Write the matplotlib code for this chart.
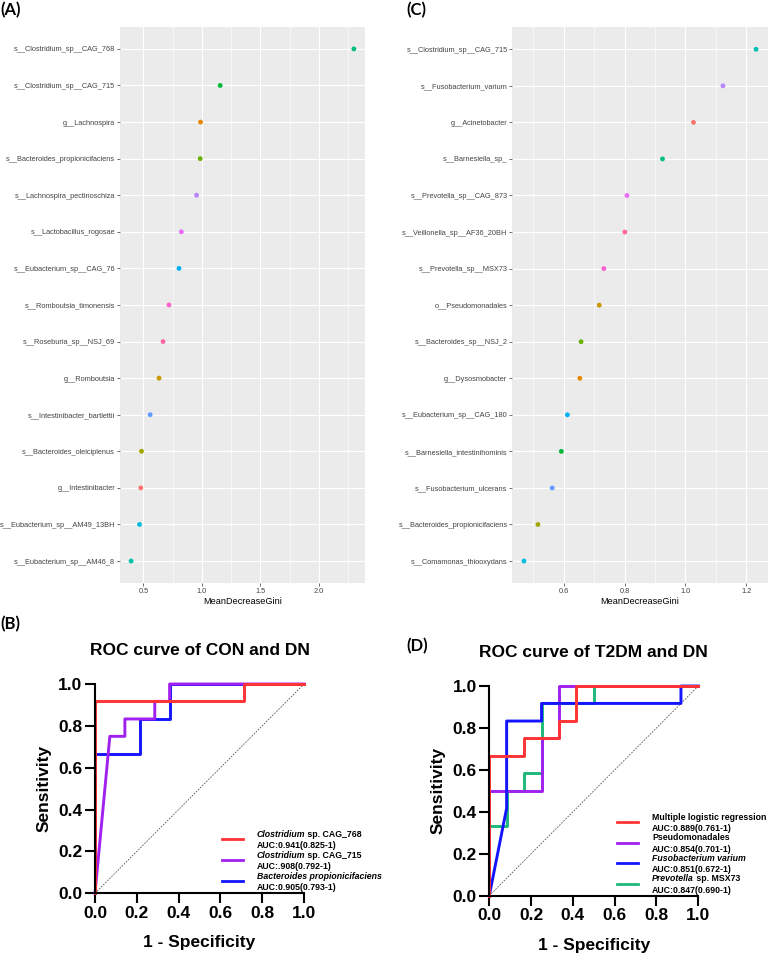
import numpy as np
import matplotlib
matplotlib.use("Agg")
import matplotlib.pyplot as plt
from matplotlib.ticker import MultipleLocator

plt.rcParams['font.family'] = 'Liberation Sans'

# (A) random forest importance, CON vs DN (top to bottom)
taxa_a = ['s__Clostridium_sp__CAG_768', 's__Clostridium_sp__CAG_715', 'g__Lachnospira',
          's__Bacteroides_propionicifaciens', 's__Lachnospira_pectinoschiza',
          's__Lactobacillus_rogosae', 's__Eubacterium_sp__CAG_76', 's__Romboutsia_timonensis',
          's__Roseburia_sp__NSJ_69', 'g__Romboutsia', 's__Intestinibacter_bartlettii',
          's__Bacteroides_oleiciplenus', 'g__Intestinibacter', 's__Eubacterium_sp__AM49_13BH',
          's__Eubacterium_sp__AM46_8']
gini_a = [2.30, 1.156, 0.988, 0.985, 0.954, 0.824, 0.804, 0.718, 0.667, 0.633,
          0.557, 0.483, 0.477, 0.466, 0.394]

# (C) random forest importance, T2DM vs DN
taxa_c = ['s__Clostridium_sp__CAG_715', 's__Fusobacterium_varium', 'g__Acinetobacter',
          's__Barnesiella_sp_', 's__Prevotella_sp__CAG_873', 's__Veillonella_sp__AF36_20BH',
          's__Prevotella_sp__MSX73', 'o__Pseudomonadales', 's__Bacteroides_sp__NSJ_2',
          'g__Dysosmobacter', 's__Eubacterium_sp__CAG_180', 's__Barnesiella_intestinihominis',
          's__Fusobacterium_ulcerans', 's__Bacteroides_propionicifaciens',
          's__Comamonas_thiooxydans']
gini_c = [1.233, 1.124, 1.027, 0.925, 0.808, 0.801, 0.732, 0.717, 0.657, 0.653,
          0.612, 0.592, 0.562, 0.515, 0.469]

# ggplot default hue palette for 15 levels (levels sorted alphabetically)
hue15 = ['#F8766D', '#E58700', '#C99800', '#A3A500', '#6BB100', '#00BA38', '#00BF7D',
         '#00C0AF', '#00BCD8', '#00B0F6', '#619CFF', '#B983FF', '#E76BF3', '#FD61D1',
         '#FF67A4']

# (B) ROC, CON vs DN
b_fpr_768 = [0, 0, 0.714, 0.714, 1]
b_tpr_768 = [0, 0.917, 0.917, 1, 1]
b_fpr_715 = [0, 0.071, 0.143, 0.143, 0.286, 0.286, 0.357, 0.357, 1]
b_tpr_715 = [0, 0.75, 0.75, 0.833, 0.833, 0.917, 0.917, 1, 1]
b_fpr_bprop = [0, 0, 0.214, 0.214, 0.357, 0.357, 1]
b_tpr_bprop = [0, 0.667, 0.667, 0.833, 0.833, 1, 1]
b_leg_italic = ['Clostridium', 'Clostridium', 'Bacteroides propionicifaciens']
b_leg_plain = [' sp. CAG_768', ' sp. CAG_715', '']
b_leg_auc = ['AUC:0.941(0.825-1)', 'AUC:.908(0.792-1)', 'AUC:0.905(0.793-1)']

# (D) ROC, T2DM vs DN
d_fpr_mlr = [0, 0, 0.167, 0.167, 0.333, 0.333, 0.417, 0.417, 1]
d_tpr_mlr = [0, 0.667, 0.667, 0.75, 0.75, 0.833, 0.833, 1, 1]
d_fpr_pseu = [0, 0, 0.25, 0.25, 0.333, 0.333, 1]
d_tpr_pseu = [0, 0.5, 0.5, 0.75, 0.75, 1, 1]
d_fpr_fuso = [0, 0.083, 0.083, 0.25, 0.25, 0.917, 0.917, 1]
d_tpr_fuso = [0, 0.417, 0.833, 0.833, 0.917, 0.917, 1, 1]
d_fpr_prev = [0, 0, 0.083, 0.083, 0.167, 0.167, 0.25, 0.25, 0.5, 0.5, 1]
d_tpr_prev = [0, 0.333, 0.333, 0.5, 0.5, 0.583, 0.583, 0.917, 0.917, 1, 1]
d_leg_italic = ['', '', 'Fusobacterium varium', 'Prevotella']
d_leg_plain = ['Multiple logistic regression', 'Pseudomonadales', '', ' sp. MSX73']
d_leg_auc = ['AUC:0.889(0.761-1)', 'AUC:0.854(0.701-1)', 'AUC:0.851(0.672-1)',
             'AUC:0.847(0.690-1)']

RED, PURPLE, BLUE, GREEN = '#FF3333', '#A020F0', '#1414FF', '#1DB87A'


def dotplot(ax, taxa, gini, major, minor):
    n = len(taxa)
    ypos = np.arange(n)[::-1]
    levels = sorted(taxa)
    cols = [hue15[levels.index(t)] for t in taxa]
    ax.set_facecolor('#EBEBEB')
    ax.scatter(gini, ypos, s=12, c=cols, linewidths=0, zorder=3)
    ax.set_yticks(ypos)
    ax.set_yticklabels(taxa)
    ax.xaxis.set_major_locator(MultipleLocator(major))
    ax.xaxis.set_minor_locator(MultipleLocator(minor))
    ax.grid(which='major', color='white', lw=0.8)
    ax.grid(which='minor', axis='x', color='white', lw=0.4)
    ax.set_axisbelow(True)
    span = max(gini) - min(gini)
    ax.set_xlim(min(gini) - 0.05 * span, max(gini) + 0.05 * span)
    ax.set_ylim(-0.6, n - 0.4)
    for s in ax.spines.values():
        s.set_visible(False)
    ax.tick_params(which='major', length=2, width=0.5, color='#333333',
                   labelsize=5.3, labelcolor='#444444', pad=1.5)
    ax.tick_params(which='minor', length=0)
    ax.set_xlabel('MeanDecreaseGini', fontsize=6.6, labelpad=1.5)


def roc_legend(ax, colors, italics, plains, aucs, x0, y0, step=0.1):
    for i, col in enumerate(colors):
        yc = y0 - i * step
        ax.plot([x0, x0 + 0.103], [yc, yc], color=col, lw=2, transform=ax.transAxes,
                clip_on=False)
        tx = x0 + 0.168
        kw = dict(fontsize=6.3, fontweight='bold', va='center', transform=ax.transAxes)
        if italics[i]:
            t1 = ax.text(tx, yc + 0.023, italics[i], style='italic', **kw)
            if plains[i]:
                ax.annotate(plains[i], xy=(1, 0.5), xycoords=t1, va='center',
                            fontsize=6.3, fontweight='bold')
        else:
            ax.text(tx, yc + 0.023, plains[i], **kw)
        ax.text(tx, yc - 0.030, aucs[i], **kw)


def rocplot(ax, curves, title):
    ax.plot([0, 1], [0, 1], color='#555555', lw=0.6, ls=(0, (2, 1.5)), zorder=1)
    for fpr, tpr, col in curves:
        ax.plot(fpr, tpr, color=col, lw=2.1, clip_on=False, zorder=2)
    ax.set_xlim(0, 1)
    ax.set_ylim(0, 1)
    ticks = [0, 0.2, 0.4, 0.6, 0.8, 1.0]
    ax.set_xticks(ticks)
    ax.set_yticks(ticks)
    ax.set_xticklabels(['%.1f' % t for t in ticks])
    ax.set_yticklabels(['%.1f' % t for t in ticks])
    for s in ['top', 'right']:
        ax.spines[s].set_visible(False)
    for s in ['left', 'bottom']:
        ax.spines[s].set_linewidth(1.5)
    ax.tick_params(length=7, width=1.5, labelsize=12.5, pad=2)
    for t in ax.get_xticklabels() + ax.get_yticklabels():
        t.set_fontweight('bold')
    ax.set_xlabel('1 - Specificity', fontsize=12.5, fontweight='bold')
    ax.set_ylabel('Sensitivity', fontsize=12.5, fontweight='bold')
    ax.xaxis.set_label_coords(0.5, -0.237)
    ax.xaxis.label.set_va('center')
    ax.yaxis.set_label_coords(-0.243, 0.5)
    ax.yaxis.label.set_va('center')
    ax.set_title(title, fontsize=12.5, fontweight='bold', pad=21)


fig = plt.figure(figsize=(7.71, 9.56), dpi=100)

ax_a = fig.add_axes([0.1556, 0.3902, 0.3178, 0.5816])
dotplot(ax_a, taxa_a, gini_a, 0.5, 0.25)

ax_c = fig.add_axes([0.6645, 0.3902, 0.3312, 0.5812])
dotplot(ax_c, taxa_c, gini_c, 0.2, 0.1)

ax_b = fig.add_axes([0.1232, 0.0656, 0.2711, 0.2189])
rocplot(ax_b, [(b_fpr_bprop, b_tpr_bprop, BLUE),
               (b_fpr_715, b_tpr_715, PURPLE),
               (b_fpr_768, b_tpr_768, RED)], 'ROC curve of CON and DN')
roc_legend(ax_b, [RED, PURPLE, BLUE], b_leg_italic, b_leg_plain, b_leg_auc, 0.606, 0.258)

ax_d = fig.add_axes([0.6346, 0.0631, 0.2711, 0.2193])
rocplot(ax_d, [(d_fpr_prev, d_tpr_prev, GREEN),
               (d_fpr_pseu, d_tpr_pseu, PURPLE),
               (d_fpr_fuso, d_tpr_fuso, BLUE),
               (d_fpr_mlr, d_tpr_mlr, RED)], 'ROC curve of T2DM and DN')
roc_legend(ax_d, [RED, PURPLE, BLUE, GREEN], d_leg_italic, d_leg_plain, d_leg_auc,
           0.61, 0.35, step=0.0977)

for lab, x, y in [('(A)', 0.001, 0.989), ('(C)', 0.527, 0.989),
                  ('(B)', 0.001, 0.347), ('(D)', 0.527, 0.324)]:
    fig.text(x, y, lab, fontsize=12, fontweight='bold', family='Lato', va='center')

fig.savefig('out.png', dpi=100)
